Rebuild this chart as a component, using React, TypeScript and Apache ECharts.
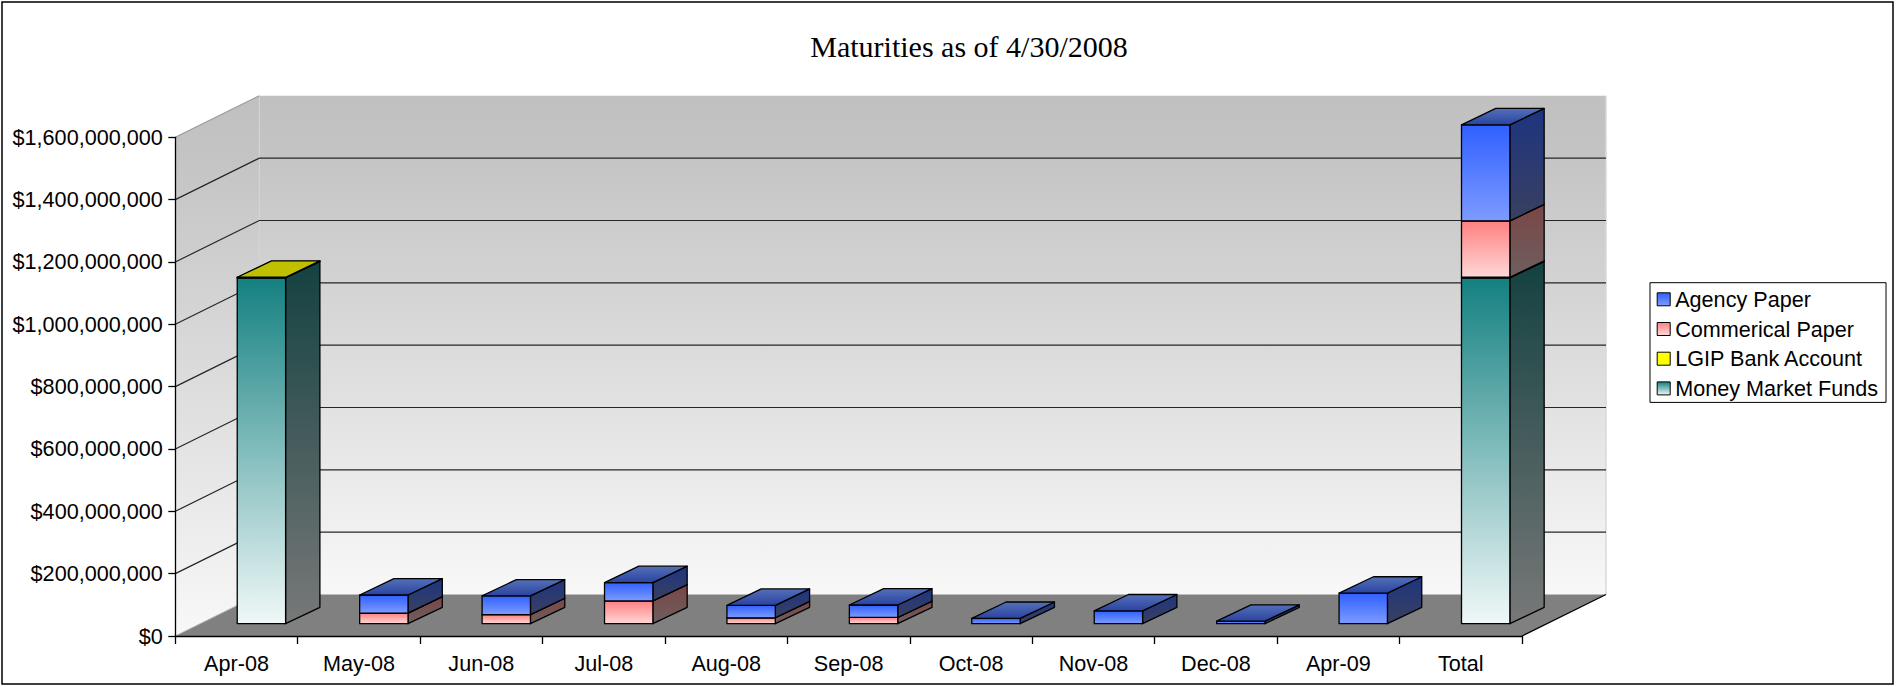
import React, { useEffect, useRef } from "react";
import * as echarts from "echarts";

// ---------- data ----------
const TITLE = "Maturities as of 4/30/2008";
const CATEGORIES = ["Apr-08", "May-08", "Jun-08", "Jul-08", "Aug-08", "Sep-08", "Oct-08", "Nov-08", "Dec-08", "Apr-09", "Total"];
const MONEY_MARKET_FUNDS = [1110e6, 0, 0, 0, 0, 0, 0, 0, 0, 0, 1110e6];
const LGIP_BANK_ACCOUNT = [1.5e6, 0, 0, 0, 0, 0, 0, 0, 0, 0, 1.5e6];
const COMMERICAL_PAPER = [0, 34e6, 29e6, 73e6, 19e6, 20e6, 0, 0, 0, 0, 181e6];
const AGENCY_PAPER = [0, 58e6, 60e6, 59e6, 40e6, 40e6, 17e6, 41e6, 8e6, 98e6, 308e6];
const Y_TICKS = [0, 2e8, 4e8, 6e8, 8e8, 10e8, 12e8, 14e8, 16e8];
const LEGEND_ORDER = ["Agency Paper", "Commerical Paper", "LGIP Bank Account", "Money Market Funds"];

// ---------- styles ----------
const SANS = "'Liberation Sans', Arial, sans-serif";
const SERIF = "'Liberation Serif', 'Times New Roman', serif";
const FONT = 21.6;
const DEPTH: [number, number] = [84, -41.5];
const BAR_FRONT: [number, number] = [24.9, -12.3];
const BAR_BACK: [number, number] = [59.2, -28.7];
const BAR_WIDTH_FRAC = 0.395;

const lg = (c0: string, c1: string) =>
  new echarts.graphic.LinearGradient(0, 0, 0, 1, [
    { offset: 0, color: c0 },
    { offset: 1, color: c1 },
  ]);

type FaceStyle = { front: [string, string]; side: [string, string]; top: [string, string] };

const STYLES: Record<string, FaceStyle> = {
  "Money Market Funds": { front: ["#148080", "#f0f8f8"], side: ["#144141", "#787878"], top: ["#0f6060", "#0f6060"] },
  "LGIP Bank Account": { front: ["#ffff00", "#ffff80"], side: ["#808000", "#808000"], top: ["#c0c000", "#c0c000"] },
  "Commerical Paper": { front: ["#ff8080", "#ffd7d7"], side: ["#7a4646", "#6e5f5f"], top: ["#c06060", "#a04848"] },
  "Agency Paper": { front: ["#3060ff", "#7d9bff"], side: ["#1e3480", "#394060"], top: ["#5470b8", "#2a44a0"] },
};

const SERIES_ORDER: [string, number[]][] = [
  ["Money Market Funds", MONEY_MARKET_FUNDS],
  ["LGIP Bank Account", LGIP_BANK_ACCOUNT],
  ["Commerical Paper", COMMERICAL_PAPER],
  ["Agency Paper", AGENCY_PAPER],
];

function buildStacks() {
  const base = CATEGORIES.map(() => 0);
  return SERIES_ORDER.map(([name, vals]) => {
    const data: number[][] = [];
    vals.forEach((v, i) => {
      if (v > 0) data.push([i, base[i], base[i] + v]);
      base[i] += v;
    });
    return { name, data };
  });
}

function makeBarRender(st: FaceStyle) {
  return (params: any, api: any) => {
    const i = api.value(0);
    const b = api.coord([i, api.value(1)]);
    const t = api.coord([i, api.value(2)]);
    const band = api.size([1, 0])[0];
    const hw = (band * BAR_WIDTH_FRAC) / 2;
    const L = b[0] - hw + BAR_FRONT[0];
    const R = b[0] + hw + BAR_FRONT[0];
    const yb = b[1] + BAR_FRONT[1];
    const yt = t[1] + BAR_FRONT[1];
    const dx = BAR_BACK[0] - BAR_FRONT[0];
    const dy = BAR_BACK[1] - BAR_FRONT[1];
    const edge = { stroke: "#000", lineWidth: 1.3, lineJoin: "round" };
    return {
      type: "group",
      children: [
        {
          type: "polygon",
          shape: { points: [[R, yt], [R + dx, yt + dy], [R + dx, yb + dy], [R, yb]] },
          style: { fill: lg(st.side[0], st.side[1]), ...edge },
        },
        {
          type: "rect",
          shape: { x: L, y: yt, width: R - L, height: Math.max(yb - yt, 0.01) },
          style: { fill: lg(st.front[0], st.front[1]), ...edge },
        },
        {
          type: "polygon",
          shape: { points: [[L, yt], [L + dx, yt + dy], [R + dx, yt + dy], [R, yt]] },
          style: { fill: lg(st.top[0], st.top[1]), ...edge },
        },
      ],
    };
  };
}

function renderWalls(params: any, api: any) {
  const cs = params.coordSys;
  const [ddx, ddy] = DEPTH;
  const x0 = cs.x;
  const x1 = cs.x + cs.width;
  const y0 = cs.y;
  const y1 = cs.y + cs.height;
  const wallFill = () =>
    new echarts.graphic.LinearGradient(0, 0, 0, 1, [
      { offset: 0, color: "#c0c0c0" },
      { offset: 0.1, color: "#c3c3c3" },
      { offset: 1, color: "#f8f8f8" },
    ]);
  const children: any[] = [
    {
      type: "rect",
      shape: { x: x0 + ddx, y: y0 + ddy, width: cs.width, height: cs.height },
      style: { fill: wallFill() },
    },
    {
      type: "polygon",
      shape: { points: [[x0, y0], [x0 + ddx, y0 + ddy], [x0 + ddx, y1 + ddy], [x0, y1]] },
      style: { fill: wallFill() },
    },
    {
      type: "polygon",
      shape: { points: [[x0, y1], [x1, y1], [x1 + ddx, y1 + ddy], [x0 + ddx, y1 + ddy]] },
      style: { fill: "#808080" },
    },
    {
      type: "line",
      shape: { x1: x0 + ddx, y1: y0 + ddy, x2: x0 + ddx, y2: y1 + ddy },
      style: { stroke: "#d4d4d4", lineWidth: 1 },
    },
    {
      type: "line",
      shape: { x1: x1 + ddx, y1: y0 + ddy, x2: x1 + ddx, y2: y1 + ddy },
      style: { stroke: "#d8d8d8", lineWidth: 1.5 },
    },
    {
      type: "line",
      shape: { x1: x0, y1: y0, x2: x0 + ddx, y2: y0 + ddy },
      style: { stroke: "#9a9a9a", lineWidth: 1.2 },
    },
    {
      type: "line",
      shape: { x1: x0, y1: y1, x2: x0 + ddx, y2: y1 + ddy },
      style: { stroke: "#b0b0b0", lineWidth: 1 },
    },
    {
      type: "line",
      shape: { x1: x1, y1: y1, x2: x1 + ddx, y2: y1 + ddy },
      style: { stroke: "#000", lineWidth: 1.3 },
    },
  ];
  const maxV = Y_TICKS[Y_TICKS.length - 1];
  Y_TICKS.filter((v) => v > 0 && v < maxV).forEach((v) => {
    const y = api.coord([0, v])[1];
    children.push({
      type: "polyline",
      shape: { points: [[x0, y], [x0 + ddx, y + ddy], [x1 + ddx, y + ddy]] },
      style: { stroke: "#262626", lineWidth: 1.2, fill: null },
    });
  });
  return { type: "group", children };
}

export default function App() {
  const ref = useRef<HTMLDivElement>(null);
  useEffect(() => {
    if (!ref.current) return;
    const chart = echarts.init(ref.current, undefined, { renderer: "svg" });
    const stacks = buildStacks();
    const legendData = LEGEND_ORDER.map((name) => {
      const st = STYLES[name];
      return {
        name,
        itemStyle: {
          color: name === "LGIP Bank Account" ? "#ffff00" : lg(st.front[0], st.front[1]),
          borderColor: "#000",
          borderWidth: 1,
        },
      };
    });
    const option: any = {
      animation: false,
      backgroundColor: "#fff",
      title: {
        text: TITLE,
        left: 969,
        top: 31.6,
        textAlign: "center",
        padding: 0,
        textStyle: { fontFamily: SERIF, fontSize: 30, fontWeight: "normal", color: "#000" },
      },
      legend: {
        data: legendData,
        orient: "vertical",
        left: 1650,
        top: 282.7,
        itemWidth: 13,
        itemHeight: 13,
        itemGap: 5.7,
        icon: "rect",
        padding: [4.6, 8, 2, 6.7],
        borderColor: "#000",
        borderWidth: 1,
        selectedMode: false,
        textStyle: { fontFamily: SANS, fontSize: FONT, color: "#000", lineHeight: 24 },
      },
      grid: { left: 175.3, right: 374, top: 137.3, bottom: 51, containLabel: false },
      xAxis: {
        type: "category",
        data: CATEGORIES,
        boundaryGap: true,
        z: 5,
        axisLine: { show: true, lineStyle: { color: "#000", width: 1.3 } },
        axisTick: { show: true, length: 8, interval: 0, lineStyle: { color: "#000", width: 1.3 } },
        axisLabel: { interval: 0, margin: 16.2, color: "#000", fontSize: FONT, fontFamily: SANS },
        splitLine: { show: false },
      },
      yAxis: {
        type: "value",
        min: Y_TICKS[0],
        max: Y_TICKS[Y_TICKS.length - 1],
        interval: Y_TICKS[1] - Y_TICKS[0],
        z: 5,
        axisLine: { show: true, lineStyle: { color: "#000", width: 1.3 } },
        axisTick: { show: true, length: 7, lineStyle: { color: "#000", width: 1.3 } },
        axisLabel: {
          margin: 12.6,
          color: "#000",
          fontSize: FONT,
          fontFamily: SANS,
          formatter: (v: number) => "$" + v.toLocaleString("en-US"),
        },
        splitLine: { show: false },
      },
      graphic: [
        {
          type: "rect",
          silent: true,
          shape: { x: 2, y: 2, width: 1891, height: 682 },
          style: { fill: "none", stroke: "#000", lineWidth: 1.5 },
        },
      ],
      series: [
        {
          type: "custom",
          name: "walls",
          z: 1,
          silent: true,
          coordinateSystem: "cartesian2d",
          data: [[0, 0]],
          encode: { x: 0, y: 1 },
          renderItem: renderWalls,
        },
        ...stacks.map((s) => ({
          type: "custom",
          name: s.name,
          z: 2,
          coordinateSystem: "cartesian2d",
          data: s.data,
          encode: { x: 0, y: [1, 2] },
          itemStyle: { color: STYLES[s.name].front[0] },
          renderItem: makeBarRender(STYLES[s.name]),
        })),
      ],
    };
    chart.setOption(option);
    return () => chart.dispose();
  }, []);
  return (
    <div
      ref={ref}
      style={{ position: "absolute", left: 0, top: 0, width: 1896, height: 687, background: "#fff" }}
    />
  );
}
